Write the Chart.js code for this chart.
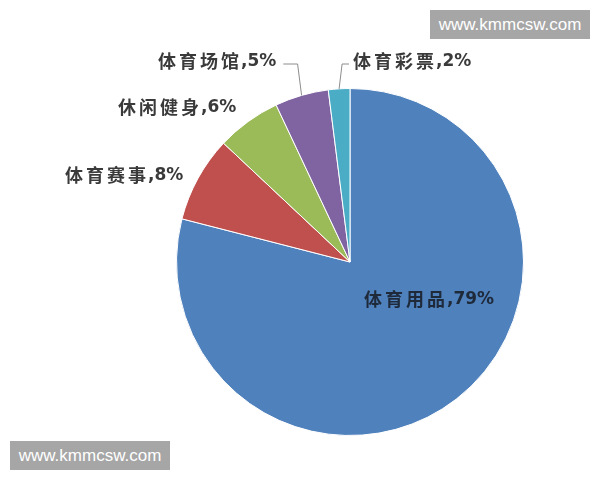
<!DOCTYPE html>
<html>
<head>
<meta charset="utf-8">
<script src="https://cdn.jsdelivr.net/npm/chart.js@4.4.1/dist/chart.umd.min.js"></script>
<style>
  html, body { margin: 0; padding: 0; background: #fff; }
  #wrap { position: relative; width: 600px; height: 480px; }
  .mark {
    position: absolute; background: #a6a6a6; color: #fff;
    font: 17px "Liberation Sans", Arial, sans-serif;
    width: 160px; height: 29px; line-height: 29px; text-align: center;
  }
</style>
</head>
<body>
<div id="wrap">
  <canvas id="pieChart" width="600" height="480"></canvas>
  <div class="mark" style="left:430px; top:10px;">www.kmmcsw.com</div>
  <div class="mark" style="left:10px; top:441px;">www.kmmcsw.com</div>
</div>
<script>
var categories = ["体育用品", "体育赛事", "休闲健身", "体育场馆", "体育彩票"];
var shares = [79, 8, 6, 5, 2];
var colors = ["#4f81bd", "#c0504d", "#9bbb59", "#8064a2", "#4bacc6"];

// where each label sits (text left edge / middle), and whether it gets a leader line
var labelPlace = [
  { x: 364, y: 299, color: "#1e2a3a", leader: null },
  { x: 65, y: 175, color: "#3a3a3a", leader: null },
  { x: 118, y: 107, color: "#3a3a3a", leader: null },
  { x: 158, y: 61, color: "#3a3a3a", leader: "left" },
  { x: 353, y: 61, color: "#3a3a3a", leader: "right" }
];

var cjkFont = "bold 18px 'Noto Sans CJK SC', sans-serif";
var numFont = "bold 17px 'DejaVu Sans', 'Noto Sans CJK SC', sans-serif";

var pieLabels = {
  id: "pieLabels",
  afterDatasetsDraw: function (chart) {
    var ctx = chart.ctx;
    var arcs = chart.getDatasetMeta(0).data;
    ctx.save();
    ctx.textBaseline = "middle";
    ctx.textAlign = "left";
    arcs.forEach(function (arc, i) {
      var p = labelPlace[i];
      var name = categories[i];
      var pct = "," + shares[i] + "%";
      ctx.font = cjkFont;
      ctx.letterSpacing = "3px";
      var w1 = ctx.measureText(name).width;
      ctx.font = numFont;
      ctx.letterSpacing = "0px";
      var w2 = ctx.measureText(pct).width;
      if (p.leader) {
        var a = (arc.startAngle + arc.endAngle) / 2;
        var sx = arc.x + Math.cos(a) * arc.outerRadius;
        var sy = arc.y + Math.sin(a) * arc.outerRadius;
        var ly = p.y + 3;
        var ex = p.leader === "left" ? p.x + w1 + w2 + 6 : p.x - 4;
        var bx = p.leader === "left" ? sx - 4 : sx + 3;
        ctx.strokeStyle = "#8c8c8c";
        ctx.lineWidth = 1;
        ctx.beginPath();
        ctx.moveTo(sx, sy);
        ctx.lineTo(bx, ly);
        ctx.lineTo(ex, ly);
        ctx.stroke();
      }
      ctx.fillStyle = p.color;
      ctx.font = cjkFont;
      ctx.letterSpacing = "3px";
      ctx.fillText(name, p.x, p.y);
      ctx.font = numFont;
      ctx.letterSpacing = "0px";
      ctx.fillText(pct, p.x + w1 - 1, p.y + 1);
    });
    ctx.restore();
  }
};

new Chart(document.getElementById("pieChart").getContext("2d"), {
  type: "pie",
  data: {
    labels: categories,
    datasets: [{
      data: shares,
      backgroundColor: colors,
      borderColor: "#ffffff",
      borderWidth: 1
    }]
  },
  options: {
    responsive: false,
    animation: false,
    layout: { padding: { left: 176, right: 76, top: 88, bottom: 44 } },
    plugins: {
      legend: { display: false },
      tooltip: { enabled: false }
    }
  },
  plugins: [pieLabels]
});
</script>
</body>
</html>
